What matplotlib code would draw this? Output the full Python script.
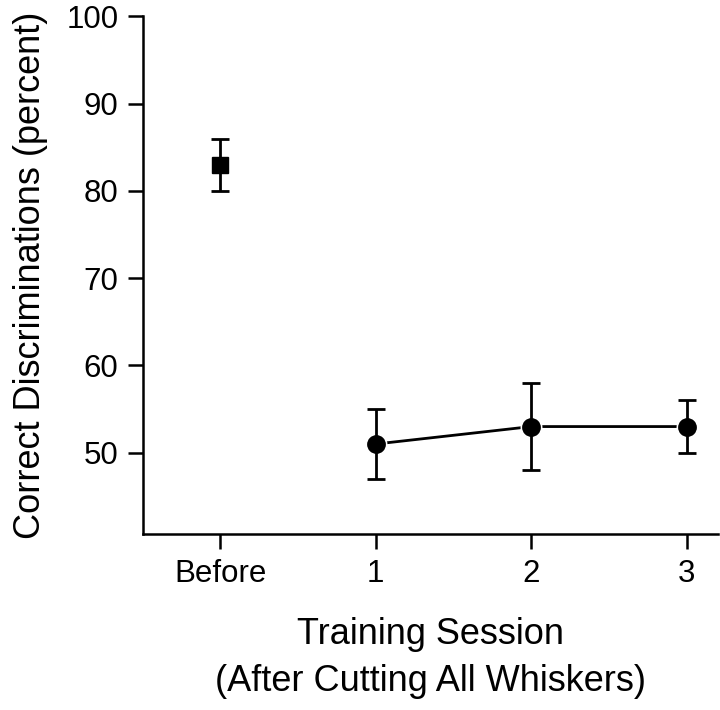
import matplotlib.pyplot as plt

plt.rcParams["font.family"] = ["Liberation Sans", "DejaVu Sans"]

before_x = [0]
before_y = [83]
before_err = [3]

session_x = [1, 2, 3]
session_y = [51, 53, 53]
session_err_low = [4, 5, 3]
session_err_high = [4, 5, 3]

tick_pos = [0, 1, 2, 3]
tick_labels = ["Before", "1", "2", "3"]

fig = plt.figure(figsize=(7.2, 7.1), dpi=100)
ax = fig.add_axes([0.199, 0.248, 0.798, 0.729])

ax.errorbar(before_x, before_y, yerr=before_err, fmt="s", color="black",
            markersize=11.5, capsize=6.5, capthick=2, elinewidth=2)

# connecting line with a thin white halo round each dot
ax.plot(session_x, session_y, "-o", color="black", linewidth=2,
        markersize=14, markeredgecolor="white", markeredgewidth=1.8,
        zorder=2)
ax.errorbar(session_x, session_y, yerr=[session_err_low, session_err_high],
            fmt="o", color="black", markersize=12.5, capsize=6.5,
            capthick=2, elinewidth=2, zorder=3)

ax.set_xlim(-0.495, 3.2)
ax.set_ylim(40.7, 100)
ax.set_yticks([50, 60, 70, 80, 90, 100])
ax.set_xticks(tick_pos)
ax.set_xticklabels(tick_labels)

for s in ["top", "right"]:
    ax.spines[s].set_visible(False)
for s in ["left", "bottom"]:
    ax.spines[s].set_linewidth(1.8)

ax.tick_params(axis="both", direction="out", length=11, width=1.8,
               labelsize=22.5, pad=7)

ax.set_ylabel("Correct Discriminations (percent)", fontsize=26, labelpad=13)
ax.set_xlabel("Training Session\n(After Cutting All Whiskers)", fontsize=26,
              labelpad=20, linespacing=1.45)

fig.savefig("out.png", dpi=100)
